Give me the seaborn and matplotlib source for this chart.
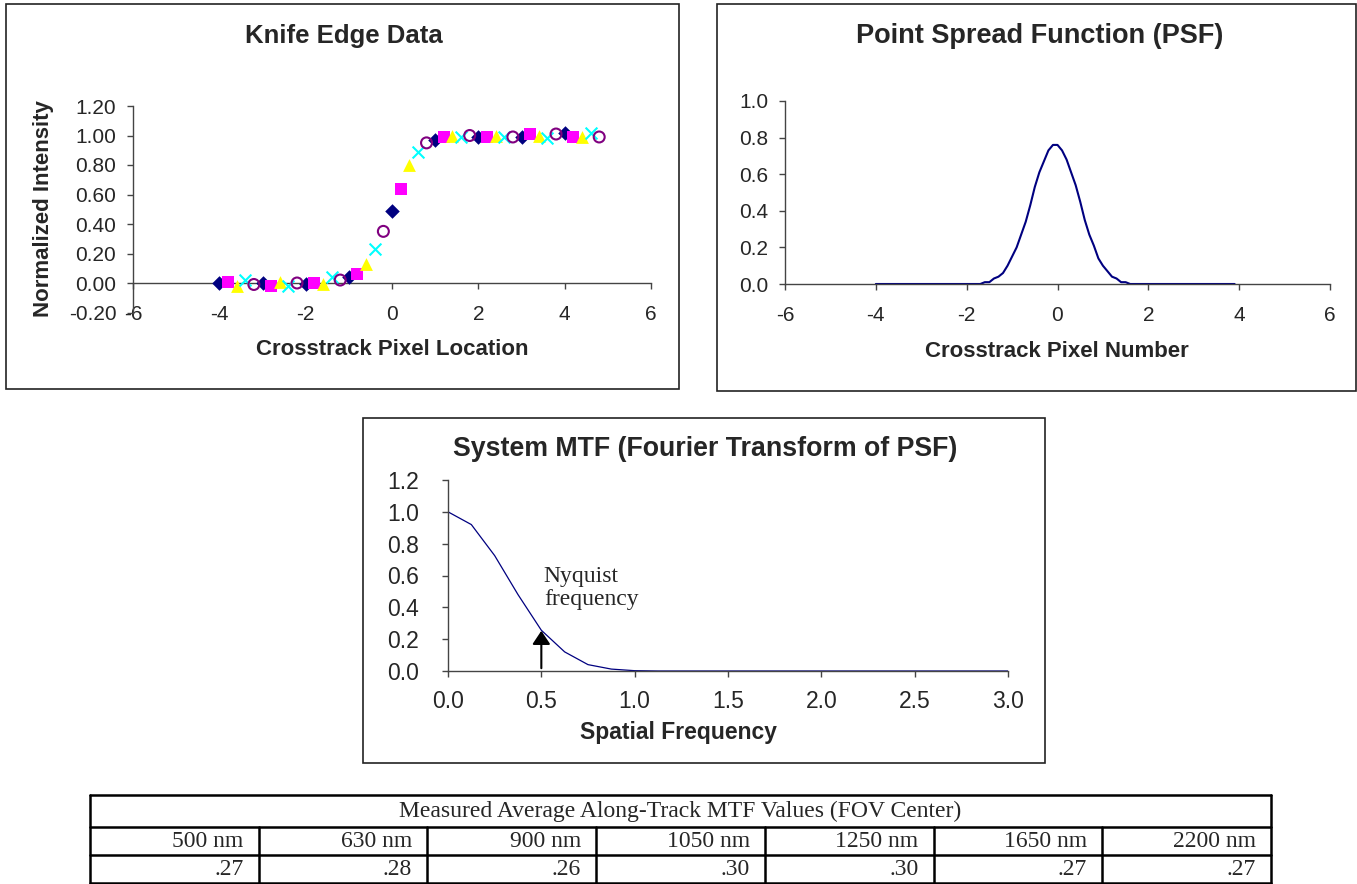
import matplotlib
matplotlib.use("Agg")
import matplotlib.pyplot as plt
import matplotlib.patches as patches
import seaborn as sns

# Knife edge samples (5 interleaved scans)
diamond_x = [-4, -3, -2, -1, 0, 1, 2, 3, 4]
diamond_y = [0.00, 0.00, -0.01, 0.04, 0.49, 0.97, 0.99, 0.99, 1.02]
square_x = [-3.8, -2.8, -1.8, -0.8, 0.2, 1.2, 2.2, 3.2, 4.2]
square_y = [0.01, -0.02, 0.00, 0.06, 0.64, 0.99, 0.99, 1.01, 0.99]
triangle_x = [-3.6, -2.6, -1.6, -0.6, 0.4, 1.4, 2.4, 3.4, 4.4]
triangle_y = [-0.02, 0.01, -0.01, 0.13, 0.80, 1.00, 1.00, 1.00, 0.99]
cross_x = [-3.4, -2.4, -1.4, -0.4, 0.6, 1.6, 2.6, 3.6, 4.6]
cross_y = [0.02, -0.02, 0.04, 0.23, 0.89, 0.99, 0.99, 0.98, 1.02]
circle_x = [-3.2, -2.2, -1.2, -0.2, 0.8, 1.8, 2.8, 3.8, 4.8]
circle_y = [-0.01, 0.00, 0.02, 0.35, 0.95, 1.00, 0.99, 1.01, 0.99]

# Point spread function
psf_x = [-4.0, -1.7, -1.6, -1.5, -1.4, -1.3, -1.2, -1.1, -1.0, -0.9, -0.8, -0.7,
         -0.6, -0.5, -0.4, -0.3, -0.2, -0.1, 0.0, 0.1, 0.2, 0.3, 0.4, 0.5, 0.6,
         0.7, 0.8, 0.9, 1.0, 1.1, 1.2, 1.3, 1.4, 1.5, 1.6, 3.9]
psf_y = [0.0, 0.0, 0.01, 0.01, 0.03, 0.04, 0.06, 0.10, 0.15, 0.20, 0.27, 0.34,
         0.43, 0.53, 0.61, 0.67, 0.73, 0.76, 0.76, 0.73, 0.68, 0.61, 0.54, 0.45, 0.35,
         0.27, 0.21, 0.14, 0.10, 0.07, 0.04, 0.03, 0.01, 0.01, 0.0, 0.0]

# System MTF
mtf_x = [0.0, 0.125, 0.25, 0.375, 0.5, 0.625, 0.75, 0.875, 1.0, 1.125, 1.25, 1.375,
         1.5, 1.625, 1.75, 1.875, 2.0, 2.125, 2.25, 2.375, 2.5, 2.625, 2.75, 2.875, 3.0]
mtf_y = [1.0, 0.92, 0.725, 0.48, 0.256, 0.12, 0.04, 0.012, 0.002, 0.0, 0.0, 0.0,
         0.0, 0.0, 0.0, 0.0, 0.0, 0.0, 0.0, 0.0, 0.0, 0.0, 0.0, 0.0, 0.0]
nyquist = 0.5

# Table
bands = ["500 nm", "630 nm", "900 nm", "1050 nm", "1250 nm", "1650 nm", "2200 nm"]
mtf_values = [".27", ".28", ".26", ".30", ".30", ".27", ".27"]

sns.set_style("white")
plt.rcParams['font.family'] = ['Liberation Sans', 'DejaVu Sans']
plt.rcParams['axes.unicode_minus'] = False
serif = ["Liberation Serif", "DejaVu Serif"]

W, H = 1357, 884
fig = plt.figure(figsize=(W / 100, H / 100), dpi=100)


def rect(l, t, r, b):
    return [l / W, 1 - b / H, (r - l) / W, (b - t) / H]


def box(l, t, r, b):
    fig.patches.append(patches.Rectangle((l / W, 1 - b / H), (r - l) / W, (b - t) / H,
                                         transform=fig.transFigure, fill=False,
                                         edgecolor="#222222", linewidth=1.2))


def label(x, y, s, size, **kw):
    fig.text(x / W, 1 - y / H, s, ha="center", va="center", fontsize=size,
             fontweight="bold", **kw)


def style_axes(ax, size):
    for s in ["top", "right"]:
        ax.spines[s].set_visible(False)
    for s in ["left", "bottom"]:
        ax.spines[s].set_color("#444444")
        ax.spines[s].set_linewidth(1.0)
    ax.tick_params(direction="out", length=4, width=1, color="#444444",
                   labelsize=size, bottom=True, left=True)
    ax.set_xlabel("")
    ax.set_ylabel("")


# ---- Knife edge ----
box(6, 4, 679, 389)
ax1 = fig.add_axes(rect(133, 106, 651, 312.5))
ms = dict(ax=ax1, legend=False, zorder=3)
sns.scatterplot(x=diamond_x, y=diamond_y, marker="D", color="#000080", s=55, linewidth=0, **ms)
sns.scatterplot(x=square_x, y=square_y, marker="s", color="#FF00FF", s=68, linewidth=0, **ms)
sns.scatterplot(x=triangle_x, y=triangle_y, marker="^", color="#FFFF00", s=85, linewidth=0, **ms)
sns.scatterplot(x=cross_x, y=cross_y, marker="x", color="#00FFFF", s=72, linewidth=1.5, **ms)
sns.scatterplot(x=circle_x, y=circle_y, marker="o", facecolor="none", edgecolor="#800080",
                s=62, linewidth=1.5, **ms)
ax1.set_xlim(-6, 6)
ax1.set_ylim(-0.2, 1.2)
ax1.set_xticks(range(-6, 7, 2))
ax1.set_yticks([-0.2, 0, 0.2, 0.4, 0.6, 0.8, 1.0, 1.2])
ax1.set_yticklabels([f"{v:.2f}" for v in ax1.get_yticks()])
style_axes(ax1, 15)
ax1.spines["bottom"].set_position(("data", 0))
ax1.tick_params(axis="x", pad=12)
ax1.tick_params(axis="y", pad=8)
label(344, 36, "Knife Edge Data", 18.5)
label(392, 350, "Crosstrack Pixel Location", 16)
label(44, 209, "Normalized Intensity", 16, rotation=90)

# ---- PSF ----
box(717, 4, 1356, 391)
ax2 = fig.add_axes(rect(785, 101, 1330, 284))
sns.lineplot(x=psf_x, y=psf_y, ax=ax2, color="#000080", linewidth=1.5)
ax2.set_xlim(-6, 6)
ax2.set_ylim(0, 1.0)
ax2.set_xticks(range(-6, 7, 2))
ax2.set_yticks([0, 0.2, 0.4, 0.6, 0.8, 1.0])
ax2.set_yticklabels([f"{v:.1f}" for v in ax2.get_yticks()])
style_axes(ax2, 15)
ax2.tick_params(axis="x", pad=12)
ax2.tick_params(axis="y", pad=8)
label(1040, 36, "Point Spread Function (PSF)", 19.5)
label(1057, 352, "Crosstrack Pixel Number", 16)

# ---- MTF ----
box(363, 418, 1045, 763)
ax3 = fig.add_axes(rect(448, 480, 1008, 671))
sns.lineplot(x=mtf_x, y=mtf_y, ax=ax3, color="#000080", linewidth=0.9)
ax3.set_xlim(0, 3.0)
ax3.set_ylim(0, 1.2)
ax3.set_xticks([0, 0.5, 1.0, 1.5, 2.0, 2.5, 3.0])
ax3.set_xticklabels([f"{v:.1f}" for v in ax3.get_xticks()])
ax3.set_yticks([0, 0.2, 0.4, 0.6, 0.8, 1.0, 1.2])
ax3.set_yticklabels([f"{v:.1f}" for v in ax3.get_yticks()])
style_axes(ax3, 16.5)
ax3.tick_params(axis="x", pad=10)
ax3.tick_params(axis="y", pad=17)
ax3.annotate("", xy=(nyquist, 0.27), xytext=(nyquist, 0),
             arrowprops=dict(arrowstyle="-|>,head_length=0.45,head_width=0.3",
                             color="black", lw=1.5, mutation_scale=18))
ax3.text(0.513, 0.66, "Nyquist\nfrequency", ha="left", va="top", fontsize=17,
         family=serif, linespacing=1.15)
label(705, 449, "System MTF (Fourier Transform of PSF)", 19.3)
label(678, 732, "Spatial Frequency", 16.5)

# ---- Table ----
tx = fig.add_axes(rect(90, 795, 1271, 883))
tx.set_xlim(0, 7)
tx.set_ylim(3, 0)
tx.axis("off")
row_edges = [0, 1.1, 2.05, 3]
lw = 1.8
for yv in row_edges:
    tx.plot([0, 7], [yv, yv], color="black", lw=lw, clip_on=False)
tx.plot([0, 0], [0, 3], color="black", lw=lw, clip_on=False)
tx.plot([7, 7], [0, 3], color="black", lw=lw, clip_on=False)
for i in range(1, 7):
    tx.plot([i, i], [row_edges[1], 3], color="black", lw=lw, clip_on=False)
tx.text(3.5, (row_edges[0] + row_edges[1]) / 2, "Measured Average Along-Track MTF Values (FOV Center)",
        ha="center", va="center", fontsize=17, family=serif)
for i, (b, v) in enumerate(zip(bands, mtf_values)):
    tx.text(i + 0.91, (row_edges[1] + row_edges[2]) / 2, b, ha="right", va="center",
            fontsize=17, family=serif)
    tx.text(i + 0.91, (row_edges[2] + row_edges[3]) / 2, v, ha="right", va="center",
            fontsize=17, family=serif)

fig.savefig("out.png", dpi=100)
